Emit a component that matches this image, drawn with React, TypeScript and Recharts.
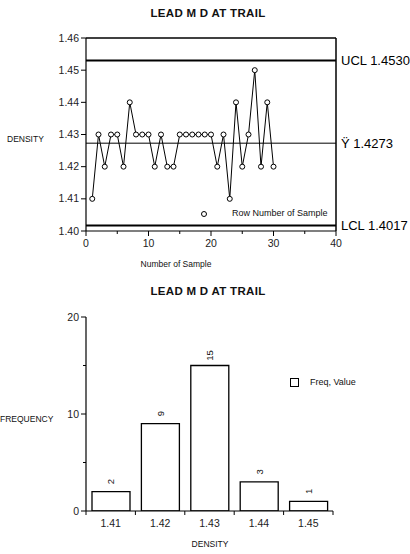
import React from 'react';
import { ComposedChart, Line, XAxis, YAxis, ReferenceLine, BarChart, Bar, LabelList } from 'recharts';

const sampleNumbers = [1,2,3,4,5,6,7,8,9,10,11,12,13,14,15,16,17,18,19,20,21,22,23,24,25,26,27,28,29,30];
const densityValues = [1.41,1.43,1.42,1.43,1.43,1.42,1.44,1.43,1.43,1.43,1.42,1.43,1.42,1.42,1.43,1.43,1.43,1.43,1.43,1.43,1.42,1.43,1.41,1.44,1.42,1.43,1.45,1.42,1.44,1.42];
const ucl = 1.453;
const centerLine = 1.4273;
const lcl = 1.4017;
const topXTicks = [0,5,10,15,20,25,30,35,40];
const topYTicks = [1.4,1.405,1.41,1.415,1.42,1.425,1.43,1.435,1.44,1.445,1.45,1.455,1.46];

const densityBins = ['1.41','1.42','1.43','1.44','1.45'];
const frequencies = [2,9,15,3,1];
const freqTicks = [0,5,10,15,20];

const samples = sampleNumbers.map((s, i) => ({ sample: s, density: densityValues[i] }));
const hist = densityBins.map((b, i) => ({ pos: i + 0.5, bin: b, freq: frequencies[i] }));
const histTicks: number[] = [];
for (let i = 0; i <= densityBins.length * 2; i++) histTicks.push(i / 2);

const FONT = '"Liberation Sans", Arial, Helvetica, sans-serif';

const TopXTick = (props: any) => {
  const { x, y, payload } = props;
  const v = payload.value;
  const major = v % 10 === 0;
  return (
    <g>
      <line x1={x} x2={x} y1={y} y2={y + (major ? 5 : 3)} stroke="#000" />
      {major && <text x={x} y={y + 16} textAnchor="middle" fontSize={10.5} fill="#222">{v}</text>}
    </g>
  );
};

const TopYTick = (props: any) => {
  const { x, y, payload } = props;
  const v = payload.value;
  const major = Math.abs(v * 100 - Math.round(v * 100)) < 1e-6;
  return (
    <g>
      <line x1={x} x2={x - (major ? 5 : 3)} y1={y} y2={y} stroke="#000" />
      {major && <text x={x - 7} y={y + 3.5} textAnchor="end" fontSize={10.5} fill="#222">{v.toFixed(2)}</text>}
    </g>
  );
};

const BotXTick = (props: any) => {
  const { x, y, payload } = props;
  const v = payload.value;
  const boundary = Math.abs(v - Math.round(v)) < 1e-6;
  if (boundary) return <line x1={x} x2={x} y1={y} y2={y + 4} stroke="#000" />;
  const label = densityBins[Math.floor(v)];
  return <text x={x} y={y + 16} textAnchor="middle" fontSize={10.5} fill="#222">{label}</text>;
};

const BotYTick = (props: any) => {
  const { x, y, payload } = props;
  const v = payload.value;
  const major = v % 10 === 0;
  return (
    <g>
      <line x1={x} x2={x - (major ? 5 : 3)} y1={y} y2={y} stroke="#000" />
      {major && <text x={x - 7} y={y + 3.5} textAnchor="end" fontSize={10.5} fill="#222">{v}</text>}
    </g>
  );
};

const BarValueLabel = (props: any) => {
  const { x, y, width, value } = props;
  const cx = x + width / 2;
  const cy = y - 10;
  return (
    <text x={cx} y={cy} transform={`rotate(-90 ${cx} ${cy})`} textAnchor="middle" dominantBaseline="central" fontSize={9.5} fill="#111">{value}</text>
  );
};

const abs = (left: number, top: number, extra: React.CSSProperties = {}): React.CSSProperties => ({
  position: 'absolute', left, top, whiteSpace: 'nowrap', lineHeight: 1, ...extra,
});

export default function App() {
  const titleStyle: React.CSSProperties = { fontSize: 11.5, fontWeight: 'bold', color: '#111', letterSpacing: 0.3 };
  const smallStyle: React.CSSProperties = { fontSize: 8.5, color: '#111' };
  return (
    <div style={{ position: 'absolute', left: 0, top: 0, width: 410, height: 554, background: '#fff', fontFamily: FONT }}>
      <div style={abs(0, 8, { width: 416, textAlign: 'center', ...titleStyle })}>LEAD M D AT TRAIL</div>
      <div style={abs(7, 135, smallStyle)}>DENSITY</div>
      <div style={abs(0, 260, { width: 352, textAlign: 'center', ...smallStyle })}>Number of Sample</div>
      <div style={abs(200, 209, { display: 'flex', alignItems: 'center', fontSize: 9, color: '#111' })}>
        <svg width={8} height={8} style={{ marginRight: 24 }}><circle cx={4} cy={4} r={2.5} fill="#fff" stroke="#000" /></svg>
        <span>Row Number of Sample</span>
      </div>

      <div style={abs(0, 0)}>
        <ComposedChart width={410} height={280} data={samples} margin={{ top: 38, right: 74, bottom: 19, left: 36 }}>
          <XAxis dataKey="sample" type="number" domain={[0, 40]} ticks={topXTicks} allowDataOverflow
            tick={<TopXTick />} tickLine={false} tickSize={0} tickMargin={0} height={30} axisLine={{ stroke: '#000', strokeWidth: 1.2 }} />
          <YAxis type="number" domain={[1.4, 1.46]} ticks={topYTicks} allowDataOverflow
            tick={<TopYTick />} tickLine={false} tickSize={0} tickMargin={0} width={50} axisLine={{ stroke: '#000', strokeWidth: 1.2 }} />
          <ReferenceLine y={1.46} stroke="#000" strokeWidth={1.5} />
          <ReferenceLine x={40} stroke="#000" strokeWidth={1.5} />
          <ReferenceLine y={ucl} stroke="#000" strokeWidth={2}
            label={{ value: 'UCL 1.4530', position: 'right', offset: 5, fill: '#000', fontSize: 13 }} />
          <ReferenceLine y={centerLine} stroke="#000" strokeWidth={1}
            label={{ value: 'Ÿ 1.4273', position: 'right', offset: 5, fill: '#000', fontSize: 13 }} />
          <ReferenceLine y={lcl} stroke="#000" strokeWidth={2}
            label={{ value: 'LCL 1.4017', position: 'right', offset: 5, fill: '#000', fontSize: 13 }} />
          <Line dataKey="density" type="linear" stroke="#000" strokeWidth={1}
            dot={{ r: 2.5, fill: '#fff', stroke: '#000', strokeWidth: 1 }} isAnimationActive={false} />
        </ComposedChart>
      </div>

      <div style={abs(0, 286, { width: 416, textAlign: 'center', ...titleStyle })}>LEAD M D AT TRAIL</div>
      <div style={abs(0, 415, smallStyle)}>FREQUENCY</div>
      <div style={abs(0, 540, { width: 420, textAlign: 'center', ...smallStyle })}>DENSITY</div>
      <div style={abs(290, 378, { display: 'flex', alignItems: 'center', fontSize: 9, color: '#111' })}>
        <svg width={9} height={9} style={{ marginRight: 11 }}><rect x={0.5} y={0.5} width={8} height={8} fill="#fff" stroke="#000" /></svg>
        <span>Freq, Value</span>
      </div>

      <div style={abs(0, 280)}>
        <BarChart width={410} height={274} data={hist} margin={{ top: 37, right: 77, bottom: 13, left: 36 }}>
          <XAxis dataKey="pos" type="number" domain={[0, 5]} ticks={histTicks} allowDataOverflow
            tick={<BotXTick />} tickLine={false} tickSize={0} tickMargin={0} height={30} interval={0}
            axisLine={{ stroke: '#000', strokeWidth: 1.2 }} />
          <YAxis type="number" domain={[0, 20]} ticks={freqTicks} allowDataOverflow
            tick={<BotYTick />} tickLine={false} tickSize={0} tickMargin={0} width={50}
            axisLine={{ stroke: '#000', strokeWidth: 1.2 }} />
          <Bar dataKey="freq" barSize={38} fill="#fff" stroke="#000" strokeWidth={1.3} isAnimationActive={false}>
            <LabelList dataKey="freq" content={<BarValueLabel />} />
          </Bar>
        </BarChart>
      </div>
    </div>
  );
}
